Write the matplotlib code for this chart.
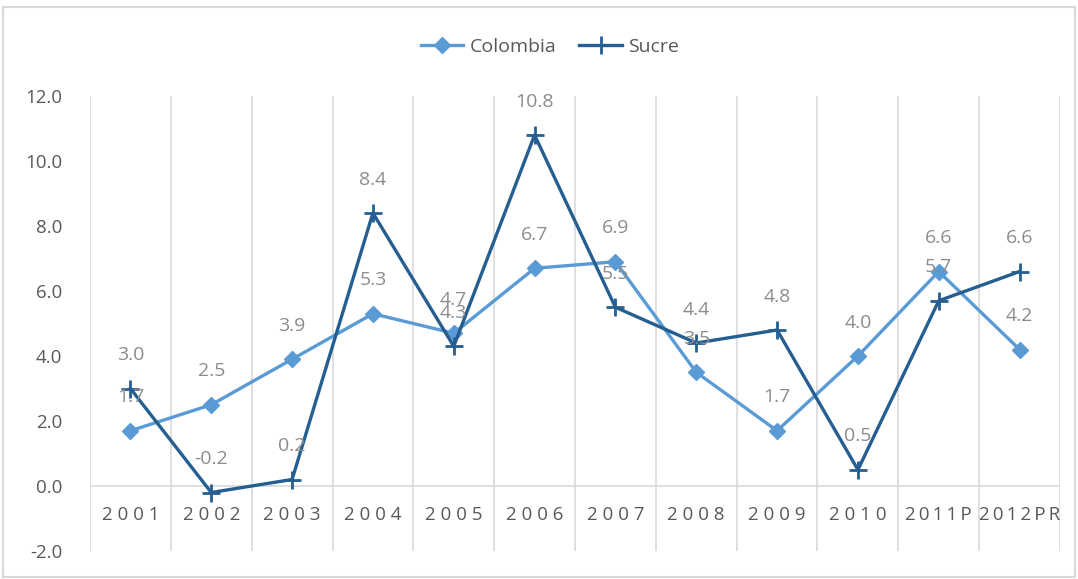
import matplotlib
matplotlib.use("Agg")
import matplotlib.pyplot as plt
from matplotlib.patches import Rectangle

categories = ["2001", "2002", "2003", "2004", "2005", "2006", "2007", "2008", "2009", "2010", "2011P", "2012PR"]
colombia = [1.7, 2.5, 3.9, 5.3, 4.7, 6.7, 6.9, 3.5, 1.7, 4.0, 6.6, 4.2]
sucre = [3.0, -0.2, 0.2, 8.4, 4.3, 10.8, 5.5, 4.4, 4.8, 0.5, 5.7, 6.6]

plt.rcParams['font.family'] = ['Open Sans', 'DejaVu Sans']

fig = plt.figure(figsize=(10.78, 5.79), dpi=100)
ax = fig.add_axes([90/1078, 1-551/579, (1060-90)/1078, (551-96)/579])

grid_c = "#D9D9D9"
text_c = "#595959"
lab_c = "#8C8C8C"
c_col = "#5B9BD5"
c_suc = "#255E91"

x = list(range(len(categories)))
ax.plot(x, colombia, color=c_col, lw=2.4, marker="D", ms=8.5, label="Colombia", zorder=3)
ax.plot(x, sucre, color=c_suc, lw=2.4, marker="+", ms=13, mew=2, label="Sucre", zorder=4)

for xi, v in zip(x, colombia):
    ax.annotate(f"{v:.1f}", (xi, v), xytext=(0, 24), textcoords="offset points",
                ha="center", va="center", color=lab_c, fontsize=14, zorder=5)
for xi, v in zip(x, sucre):
    ax.annotate(f"{v:.1f}", (xi, v), xytext=(0, 24), textcoords="offset points",
                ha="center", va="center", color=lab_c, fontsize=14, zorder=5)

ax.set_xlim(-0.5, len(categories) - 0.5)
ax.set_ylim(-2, 12)
ticks = [-2, 0, 2, 4, 6, 8, 10, 12]
ax.set_yticks(ticks)
ax.set_yticklabels([f"{t:.1f}" for t in ticks], color=text_c, fontsize=13.5)
ax.tick_params(axis="y", length=0, pad=20)
ax.set_xticks([i - 0.5 for i in range(len(categories) + 1)])
ax.set_xticklabels([])
ax.tick_params(axis="x", length=0)
ax.grid(axis="x", color=grid_c, lw=1.2)
ax.axhline(0, color=grid_c, lw=1.2, zorder=1)
for s in ax.spines.values():
    s.set_visible(False)

for xi, c in zip(x, categories):
    ax.annotate("\u2009".join(c) if len(c) > 4 else " ".join(c), (xi, 0), xytext=(0, -21), textcoords="offset points",
                ha="center", va="center", color=text_c, fontsize=13.5)

leg = fig.legend(loc="upper center", bbox_to_anchor=(0.51, 0.965), ncol=2, frameon=False,
                 fontsize=14, handlelength=2.2, columnspacing=1.2, handletextpad=0.3)
for t in leg.get_texts():
    t.set_color(text_c)

fig.patches.append(Rectangle((0.003, 0.003), 0.994, 0.985, transform=fig.transFigure,
                             fill=False, edgecolor=grid_c, lw=1.5))

fig.savefig("out.png", dpi=100)
